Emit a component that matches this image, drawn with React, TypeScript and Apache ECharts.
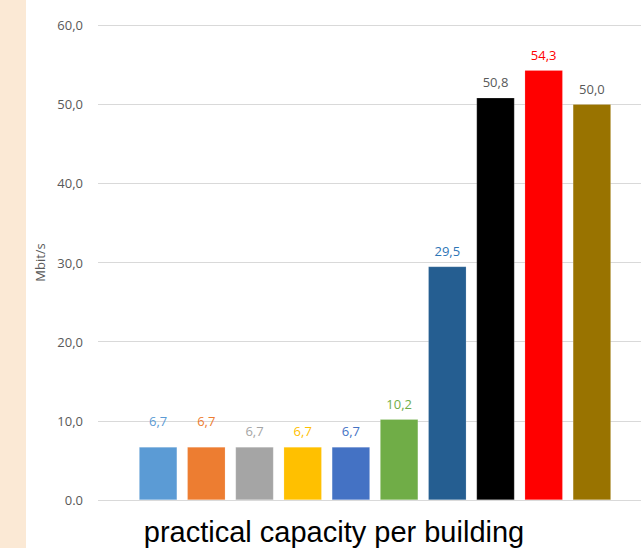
import React, { useEffect, useRef } from "react";
import * as echarts from "echarts";

const categories = ["A", "B", "C", "D", "E", "F", "G", "H", "I", "J"];
const values = [6.7, 6.7, 6.7, 6.7, 6.7, 10.2, 29.5, 50.8, 54.3, 50.0];
const barColors = ["#5B9BD5", "#ED7D31", "#A5A5A5", "#FFC000", "#4472C4", "#70AD47", "#255E91", "#000000", "#FF0000", "#997300"];
const labelColors = ["#5B9BD5", "#ED7D31", "#A5A5A5", "#FFC000", "#4472C4", "#70AD47", "#2E75B6", "#595959", "#FF0000", "#595959"];
const labelDistances = [19, 19, 9, 9, 9, 9, 9, 9, 9, 9];
const yTicks = { min: 0, max: 60, interval: 10 };
const titleText = "practical capacity per building";
const yName = "Mbit/s";

const fmt = (v: number) => (v === 0 ? "0.0" : v.toFixed(1).replace(".", ","));

export default function App() {
  const ref = useRef<HTMLDivElement>(null);
  useEffect(() => {
    if (!ref.current) return;
    const chart = echarts.init(ref.current, null, { renderer: "svg" });
    chart.setOption({
      animation: false,
      backgroundColor: "#FFFFFF",
      grid: [
        { left: 98, right: 0, top: 25, bottom: 48 },
        { left: 134, width: 482, top: 25, bottom: 48 },
      ],
      xAxis: [
        { type: "category", gridIndex: 0, data: [""], show: false },
        { type: "category", gridIndex: 1, data: categories, show: false },
      ],
      yAxis: [
        {
          type: "value",
          gridIndex: 0,
          min: yTicks.min,
          max: yTicks.max,
          interval: yTicks.interval,
          name: yName,
          nameLocation: "middle",
          nameGap: 52,
          nameTextStyle: { color: "#595959", fontSize: 13, fontFamily: "Open Sans" },
          axisLine: { show: false },
          axisTick: { show: false },
          axisLabel: {
            color: "#595959",
            fontSize: 13,
            fontFamily: "Open Sans",
            margin: 15,
            formatter: (v: number) => fmt(v),
          },
          splitLine: { show: true, lineStyle: { color: "#D9D9D9", width: 1 } },
        },
        {
          type: "value",
          gridIndex: 1,
          min: yTicks.min,
          max: yTicks.max,
          interval: yTicks.interval,
          show: false,
          splitLine: { show: false },
        },
      ],
      series: [
        {
          type: "bar",
          xAxisIndex: 1,
          yAxisIndex: 1,
          barWidth: 38,
          data: values.map((v, i) => ({
            value: v,
            itemStyle: { color: barColors[i], borderColor: "rgba(255,255,255,0.35)", borderWidth: 0.5 },
            label: {
              show: true,
              position: "top",
              distance: labelDistances[i],
              color: labelColors[i],
              fontSize: 13,
              fontFamily: "Open Sans",
              formatter: () => fmt(v),
            },
          })),
        },
      ],
      graphic: [
        { type: "rect", shape: { x: 0, y: 0, width: 26, height: 548 }, style: { fill: "#FBE9D5" }, silent: true },
        {
          type: "text",
          x: 334,
          y: 532,
          style: {
            text: titleText,
            fill: "#000000",
            fontSize: 29,
            fontFamily: "Liberation Sans, Arial",
            align: "center",
            verticalAlign: "middle",
          },
        },
      ],
    });
    return () => chart.dispose();
  }, []);
  return <div ref={ref} style={{ position: "fixed", left: 0, top: 0, width: 641, height: 548 }} />;
}
